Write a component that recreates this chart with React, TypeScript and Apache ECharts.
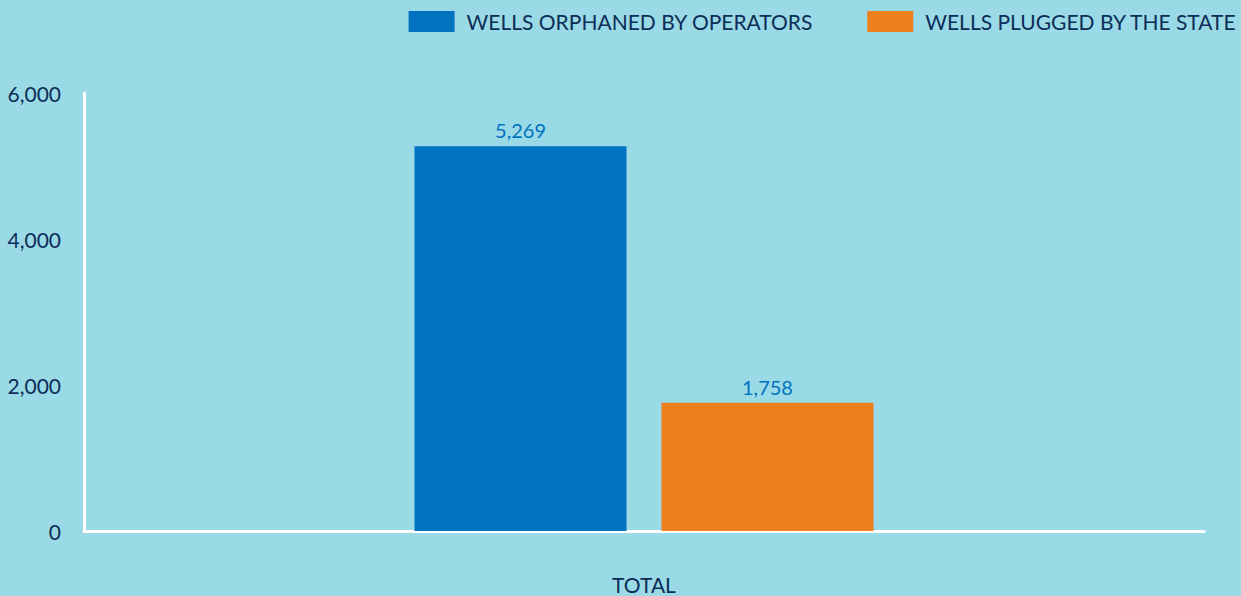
import React, { useEffect, useRef } from "react";
import * as echarts from "echarts";

const categories = ["TOTAL"];
const orphanedValues = [5269];
const pluggedValues = [1758];
const seriesNames = ["WELLS ORPHANED BY OPERATORS", "WELLS PLUGGED BY THE STATE"];
const yTicks = [0, 2000, 4000, 6000];

const BG = "#9ad9e6";
const NAVY = "#0c2d57";
const BLUE = "#0072bf";
const ORANGE = "#ee7f1f";
const FONT = "Lato, 'Noto Sans', sans-serif";

export default function App() {
  const ref = useRef<HTMLDivElement>(null);
  useEffect(() => {
    document.body.style.margin = "0";
    const chart = echarts.init(ref.current!, null, { renderer: "svg" });
    const valueLabel = {
      show: true,
      position: "top",
      distance: 6,
      color: BLUE,
      fontSize: 20,
      fontFamily: FONT,
      formatter: (p: any) => p.value.toLocaleString("en-US"),
    };
    chart.setOption({
      animation: false,
      backgroundColor: BG,
      textStyle: { fontFamily: FONT },
      legend: {
        right: 4,
        top: 11,
        padding: 0,
        itemWidth: 46,
        itemHeight: 21,
        itemGap: 54,
        icon: "rect",
        textStyle: { color: NAVY, fontSize: 21, fontFamily: FONT, padding: [0, 0, 0, 7] },
        data: seriesNames,
      },
      grid: { left: 84, right: 37, top: 93, bottom: 65, containLabel: false },
      xAxis: {
        type: "category",
        data: categories,
        axisLine: { lineStyle: { color: "#ffffff", width: 3 } },
        axisTick: { show: false },
        axisLabel: { color: NAVY, fontSize: 21, margin: 43, fontFamily: FONT },
      },
      yAxis: {
        type: "value",
        min: yTicks[0],
        max: yTicks[yTicks.length - 1],
        interval: 2000,
        splitLine: { show: false },
        axisLine: { show: true, lineStyle: { color: "#ffffff", width: 3 } },
        axisTick: { show: false },
        axisLabel: {
          color: NAVY,
          fontSize: 21,
          margin: 23,
          fontFamily: FONT,
          formatter: (v: number) => v.toLocaleString("en-US"),
        },
      },
      series: [
        {
          name: seriesNames[0],
          type: "bar",
          data: orphanedValues,
          barWidth: 212,
          barGap: "16.5%",
          itemStyle: { color: BLUE },
          label: valueLabel,
        },
        {
          name: seriesNames[1],
          type: "bar",
          data: pluggedValues,
          barWidth: 212,
          itemStyle: { color: ORANGE },
          label: valueLabel,
        },
      ],
    });
    return () => chart.dispose();
  }, []);
  return <div ref={ref} style={{ width: 1241, height: 596 }} />;
}
